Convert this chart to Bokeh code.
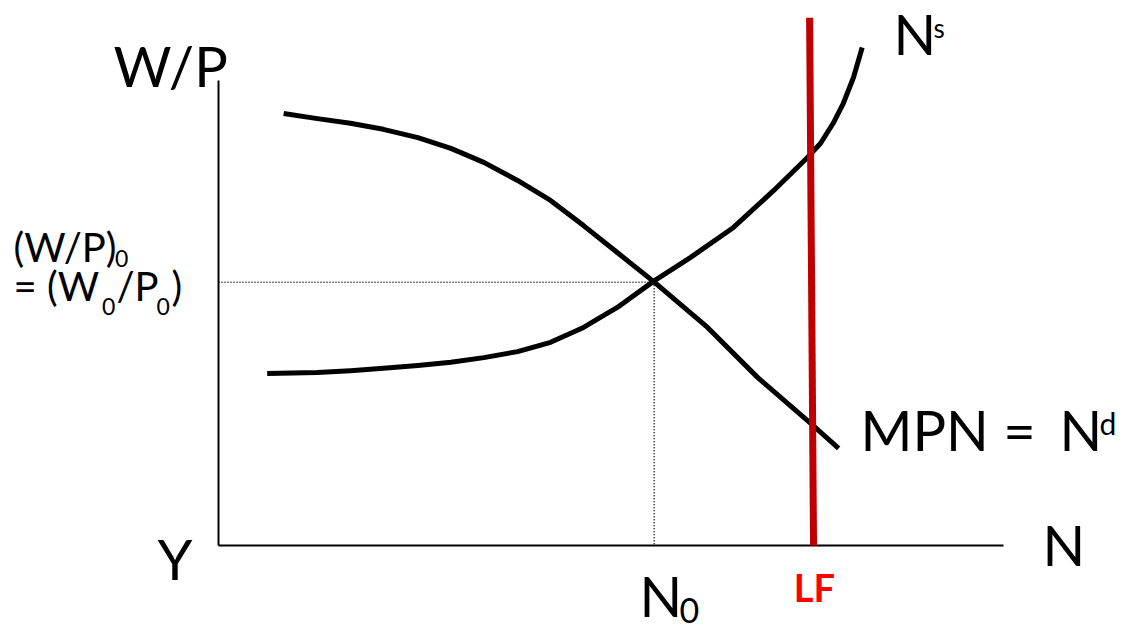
from bokeh.plotting import figure
from bokeh.models import Range1d
from bokeh.embed import file_html
from bokeh.resources import INLINE
from bokeh.core.properties import value

# ---- data (economic units: N on x, W/P on y; axes run 0..10) ----
axis_x_end = 10.0
axis_y_end = 10.0

# Labour demand  MPN = N^d
nd_N = [0.83, 1.26, 1.68, 2.10, 2.54, 2.96, 3.38, 3.81, 4.23, 4.65, 5.08, 5.54,
        6.23, 6.87, 7.50, 7.90]
nd_W = [9.29, 9.18, 9.08, 8.95, 8.77, 8.54, 8.24, 7.85, 7.42, 6.88, 6.30, 5.68,
        4.69, 3.61, 2.69, 2.09]

# Labour supply  N^s
ns_N = [0.62, 1.26, 1.68, 2.10, 2.54, 2.96, 3.38, 3.81, 4.23, 4.65, 5.08, 5.54,
        6.01, 6.56, 7.07, 7.50, 7.67, 7.83, 7.96, 8.09, 8.20]
ns_W = [3.70, 3.72, 3.76, 3.81, 3.87, 3.94, 4.04, 4.17, 4.37, 4.69, 5.12, 5.68,
        6.19, 6.84, 7.63, 8.34, 8.65, 9.08, 9.51, 10.07, 10.71]

# Equilibrium
N0 = 5.55
W0 = 5.66

# Labour force (vertical line)
lf_N = [7.58, 7.53]
lf_W = [0.0, 11.35]

FONT = value("Lato")

p = figure(width=1128, height=634, output_backend="svg", toolbar_location=None,
           x_range=Range1d(-2.7771, 11.5924), y_range=Range1d(-1.9140, 11.7204),
           min_border=0, min_border_left=0, min_border_right=0,
           min_border_top=0, min_border_bottom=0)
p.xaxis.visible = False
p.yaxis.visible = False
p.grid.visible = False
p.outline_line_color = None
p.background_fill_color = "white"
p.border_fill_color = "white"

# axes
p.line([0, 0], [0, axis_y_end], line_color="black", line_width=2)
p.line([0, axis_x_end], [0, 0], line_color="black", line_width=2)

# dotted guides
p.line([0, N0], [W0, W0], line_color="black", line_width=1.5, line_dash="1 2")
p.line([N0, N0], [W0, 0], line_color="black", line_width=1.5, line_dash="1 2")

# curves
p.line(nd_N, nd_W, line_color="black", line_width=5, line_join="round")
p.line(ns_N, ns_W, line_color="black", line_width=5, line_join="round")

# LF line
p.line(lf_N, lf_W, line_color="#C00000", line_width=7)


def label(x, y, t, size, color="black", style="normal", align="left"):
    p.text(x=[x], y=[y], text=[t], text_font=FONT, text_font_size=f"{size}px",
           text_color=color, text_font_style=style, text_align=align,
           text_baseline="alphabetic")


label(-1.338, 10.333, "W/P", 56)
label(-0.777, -0.290, "Y", 56)
label(10.497, 0.032, "N", 56)
label(5.363, -1.086, "N", 56)
label(5.873, -1.391, "0", 34)
label(7.592, -0.882, "LF", 38, color="#FF0000", style="bold", align="center")
label(8.599, 11.021, "N", 56)
label(9.108, 11.137, "s", 26)
label(8.178, 2.484, "MPN =", 56)
label(10.714, 2.484, "N", 56)
label(11.223, 2.637, "d", 30)

label(-2.611, 6.430, "(W/P)", 40)
label(-1.318, 6.176, "0", 23)
label(-2.611, 5.570, "= (W", 40)
label(-1.484, 5.144, "0", 23)
label(-1.299, 5.570, "/P", 40)
label(-0.790, 5.144, "0", 23)
label(-0.599, 5.570, ")", 40)

open("out.html", "w").write(file_html(p, INLINE))
